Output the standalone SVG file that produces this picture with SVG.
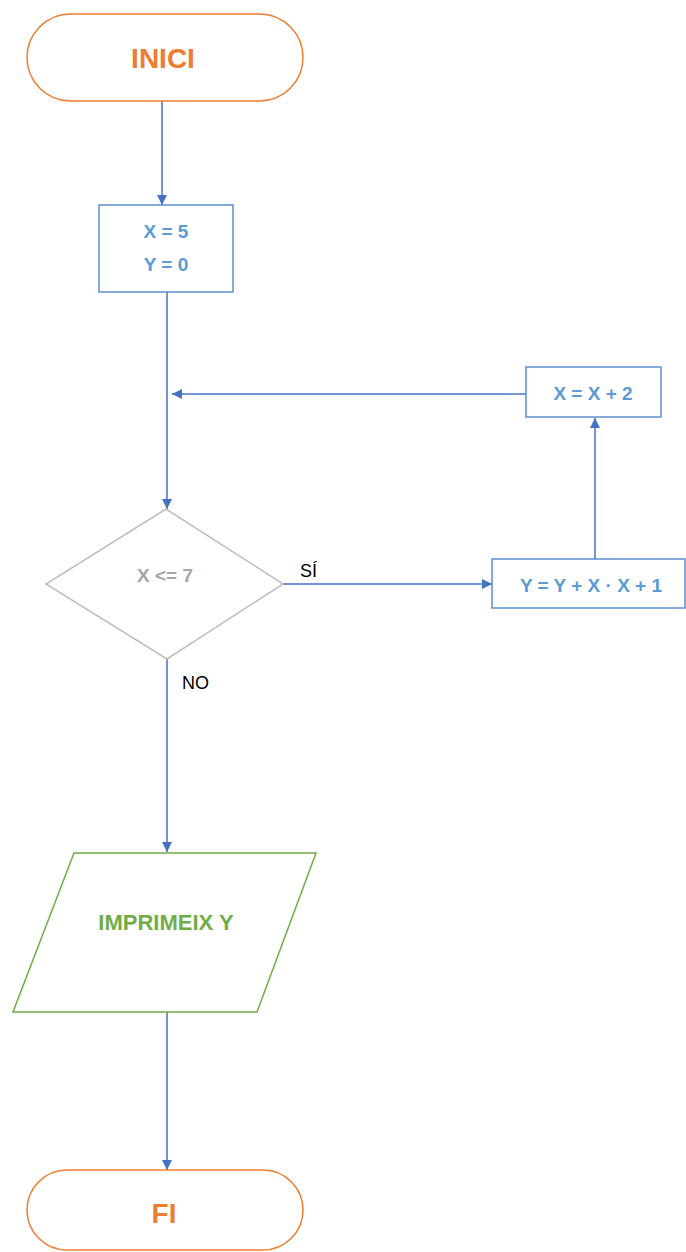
<svg xmlns="http://www.w3.org/2000/svg" width="686" height="1252" viewBox="0 0 686 1252">
<style>
.term{fill:#fff;stroke:#ED7D31;stroke-width:1.5}
.proc{fill:#fff;stroke:#5B8FCF;stroke-width:1.5}
.dec{fill:#fff;stroke:#BFBFBF;stroke-width:1.5}
.io{fill:#fff;stroke:#70AD47;stroke-width:1.5}
.conn{fill:none;stroke:#4472C4;stroke-width:1.5;marker-end:url(#ah)}
text{font-family:"Liberation Sans",Arial,sans-serif;font-weight:bold;text-anchor:middle}
.to{fill:#ED7D31;font-size:28px}
.tb{fill:#5B9BD5;font-size:19px}
.tg{fill:#A6A6A6;font-size:19px}
.tgr{fill:#70AD47;font-size:22px}
.lbl{fill:#000;font-weight:normal;font-size:18px;text-anchor:start}
</style>
<defs>
<marker id="ah" viewBox="0 0 10 10" refX="10" refY="5" markerWidth="11" markerHeight="10" markerUnits="userSpaceOnUse" orient="auto">
<path d="M0,0 L10,5 L0,10 z" fill="#4472C4"/>
</marker>
</defs>
<g id="connectors">
<line class="conn" x1="162" y1="101" x2="162" y2="205"/>
<line class="conn" x1="167" y1="292" x2="167" y2="509"/>
<line class="conn" x1="526" y1="394" x2="172" y2="394"/>
<line class="conn" x1="283" y1="584" x2="492" y2="584"/>
<line class="conn" x1="595" y1="559" x2="595" y2="418"/>
<line class="conn" x1="167" y1="659" x2="167" y2="852"/>
<line class="conn" x1="167" y1="1012" x2="167" y2="1170"/>
<text class="lbl" x="300" y="577">SÍ</text>
<text class="lbl" x="182" y="689">NO</text>
</g>
<g id="inici">
<rect class="term" x="27" y="14" width="276" height="87" rx="43.5"/>
<text class="to" x="163" y="68">INICI</text>
</g>
<g id="init">
<rect class="proc" x="99" y="205" width="134" height="87"/>
<text class="tb" x="166" y="238">X = 5</text>
<text class="tb" x="166" y="271">Y = 0</text>
</g>
<g id="inc">
<rect class="proc" x="526" y="367" width="135" height="50"/>
<text class="tb" x="593" y="400">X = X + 2</text>
</g>
<g id="cond">
<polygon class="dec" points="166,509 283,584 167,659 46,584"/>
<text class="tg" x="165" y="582">X &lt;= 7</text>
</g>
<g id="update">
<rect class="proc" x="492" y="559" width="193" height="49"/>
<text class="tb" x="591" y="592">Y = Y + X · X + 1</text>
</g>
<g id="print">
<polygon class="io" points="74,853 316,853 257,1012 13,1012"/>
<text class="tgr" x="166" y="930">IMPRIMEIX Y</text>
</g>
<g id="fi">
<rect class="term" x="27" y="1170" width="276" height="80" rx="40"/>
<text class="to" x="164" y="1223">FI</text>
</g>
</svg>
